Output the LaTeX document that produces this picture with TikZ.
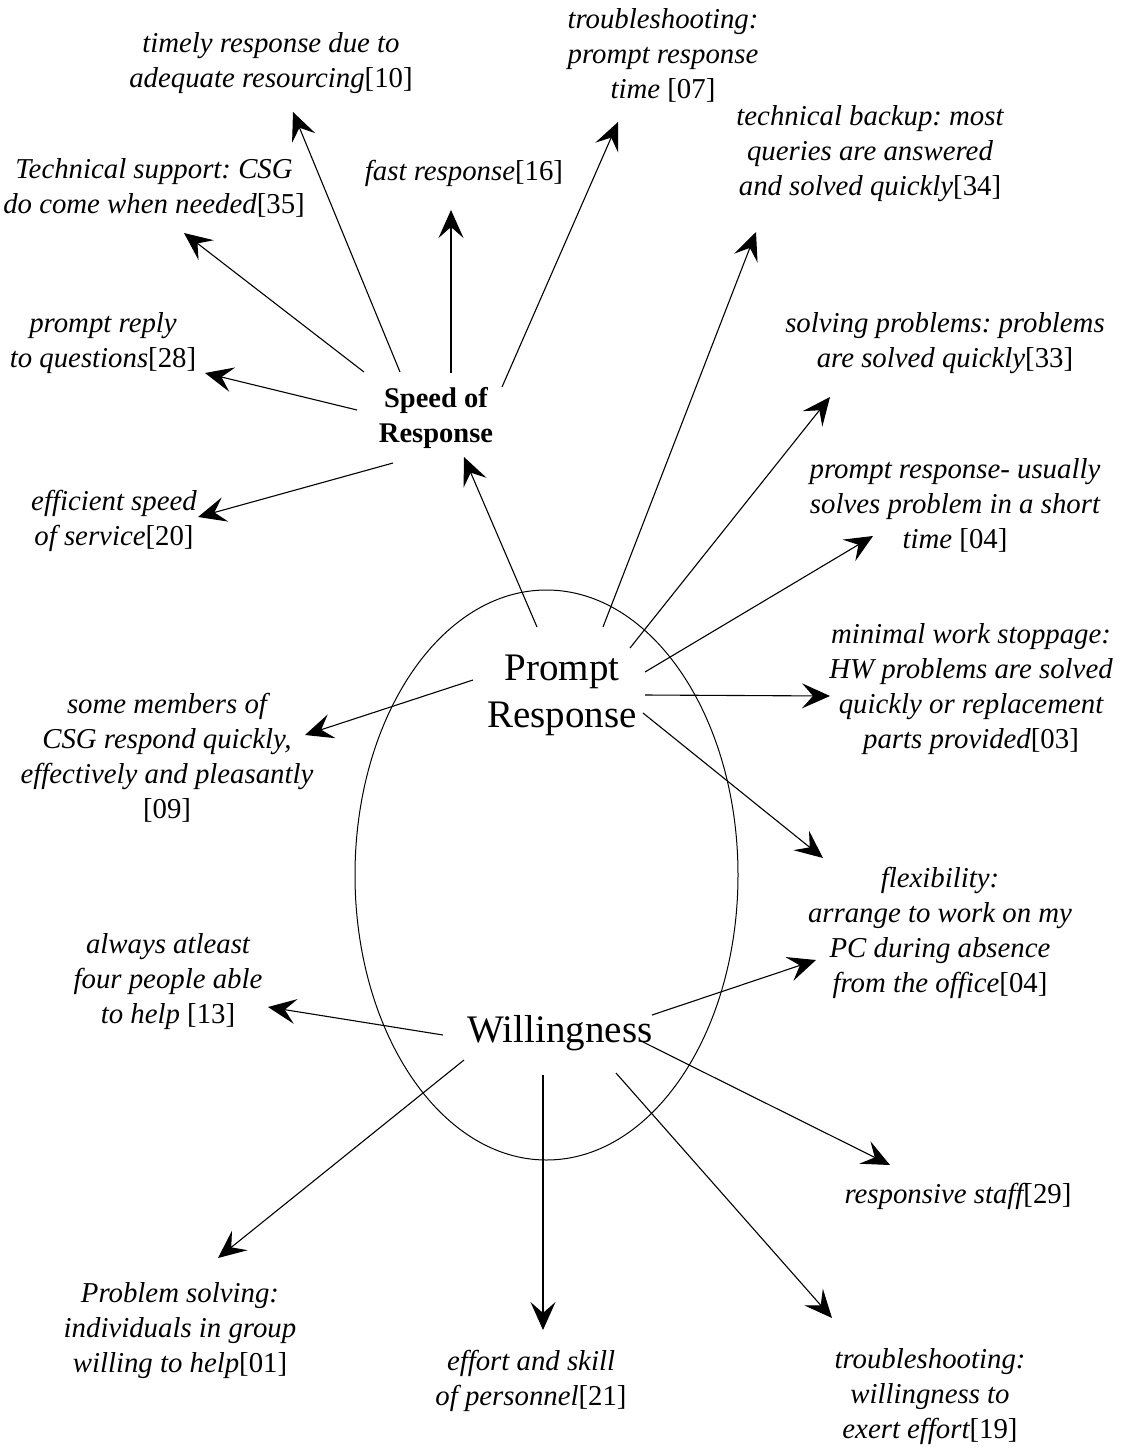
\documentclass[tikz,border=0pt]{standalone}
\usepackage{fontspec}
\setmainfont{Liberation Serif}
\usetikzlibrary{arrows.meta}
\frenchspacing
\begin{document}
\begin{tikzpicture}[x=1pt,y=-1pt,
  lbl/.style={align=center, anchor=base, inner sep=0pt,
    font=\fontsize{28.8}{35}\selectfont\itshape},
  concept/.style={align=center, anchor=base, inner sep=0pt,
    font=\fontsize{39}{47}\selectfont},
  hub/.style={align=center, anchor=base, inner sep=0pt,
    font=\fontsize{28.5}{35}\selectfont\bfseries},
  arr/.style={line width=1.1pt, -{Stealth[length=28pt,width=25pt,inset=11pt]}}]
\useasboundingbox (0,0) rectangle (1125,1451);

% central ellipse
\draw[line width=1pt] (546.5,875) ellipse [x radius=191.5, y radius=285];

% main concepts (positions give the baseline of the last line)
\node[hub]     (SoR) at (436,442)  {Speed of\\Response};
\node[concept] (PR)  at (562,727)  {Prompt\\Response};
\node[concept] (W)   at (560,1042) {Willingness};

% labels
\node[lbl] (L10)  at (271,87)   {timely response due to\\adequate resourcing\upshape[10]};
\node[lbl] (L07)  at (663,98)   {troubleshooting:\\prompt response\\time \upshape[07]};
\node[lbl] (L35)  at (154,213)  {Technical support: CSG\\do come when needed\upshape[35]};
\node[lbl] (L16)  at (464,180)  {fast response\upshape[16]};
\node[lbl] (L34)  at (870,195)  {technical backup: most\\queries are answered\\and solved quickly\upshape[34]};
\node[lbl] (L28)  at (103,367)  {prompt reply\\to questions\upshape[28]};
\node[lbl] (L33)  at (945,367)  {solving problems: problems\\are solved quickly\upshape[33]};
\node[lbl] (L20)  at (114,545)  {efficient speed\\of service\upshape[20]};
\node[lbl] (L04a) at (955,548)  {prompt response- usually\\solves problem in a short\\time \upshape[04]};
\node[lbl] (L03)  at (971,748)  {minimal work stoppage:\\HW problems are solved\\quickly or replacement\\parts provided\upshape[03]};
\node[lbl] (L09)  at (167,818)  {some members of\\CSG respond quickly,\\effectively and pleasantly\\ \upshape[09]};
\node[lbl] (L04b) at (940,992)  {flexibility:\\arrange to work on my\\PC during absence\\from the office\upshape[04]};
\node[lbl] (L13)  at (168,1023) {always atleast\\four people able\\to help \upshape[13]};
\node[lbl] (L29)  at (958,1203) {responsive staff\upshape[29]};
\node[lbl] (L01)  at (180,1372) {Problem solving:\\individuals in group\\willing to help\upshape[01]};
\node[lbl] (L21)  at (531,1405) {effort and skill\\of personnel\upshape[21]};
\node[lbl] (L19)  at (930,1438) {troubleshooting:\\willingness to\\exert effort\upshape[19]};

% connector ends
\coordinate (s10) at (400,372);  \coordinate (t10) at (293,112);
\coordinate (s35) at (364,372);  \coordinate (t35) at (184,233);
\coordinate (s16) at (451,373);  \coordinate (t16) at (451,210);
\coordinate (s07) at (502,387);  \coordinate (t07) at (618,122);
\coordinate (s28) at (357,410);  \coordinate (t28) at (205,373);
\coordinate (s20) at (393,463);  \coordinate (t20) at (198,517);
\coordinate (sPR) at (537,627);  \coordinate (tPR) at (464,457);
\coordinate (s34) at (603,627);  \coordinate (t34) at (756,232);
\coordinate (s33) at (630,648);  \coordinate (t33) at (830,397);
\coordinate (s04a) at (645,672); \coordinate (t04a) at (873,536);
\coordinate (s03) at (645,695);  \coordinate (t03) at (830,696);
\coordinate (s04b) at (643,713); \coordinate (t04b) at (823,858);
\coordinate (s09) at (473,680);  \coordinate (t09) at (305,735);
\coordinate (s13) at (443,1035); \coordinate (t13) at (268,1007);
\coordinate (sW4) at (652,1015); \coordinate (tW4) at (816,960);
\coordinate (s29) at (643,1042); \coordinate (t29) at (890,1165);
\coordinate (s01) at (464,1060); \coordinate (t01) at (218,1258);
\coordinate (s21) at (543,1075); \coordinate (t21) at (543,1330);
\coordinate (s19) at (616,1073); \coordinate (t19) at (832,1318);

% Speed of Response
\draw[arr] (s10) -- (t10);
\draw[arr] (s35) -- (t35);
\draw[arr] (s16) -- (t16);
\draw[arr] (s07) -- (t07);
\draw[arr] (s28) -- (t28);
\draw[arr] (s20) -- (t20);
% Prompt Response
\draw[arr] (sPR) -- (tPR);
\draw[arr] (s34) -- (t34);
\draw[arr] (s33) -- (t33);
\draw[arr] (s04a) -- (t04a);
\draw[arr] (s03) -- (t03);
\draw[arr] (s04b) -- (t04b);
\draw[arr] (s09) -- (t09);
% Willingness
\draw[arr] (s13) -- (t13);
\draw[arr] (sW4) -- (tW4);
\draw[arr] (s29) -- (t29);
\draw[arr] (s01) -- (t01);
\draw[arr] (s21) -- (t21);
\draw[arr] (s19) -- (t19);
\end{tikzpicture}
\end{document}
